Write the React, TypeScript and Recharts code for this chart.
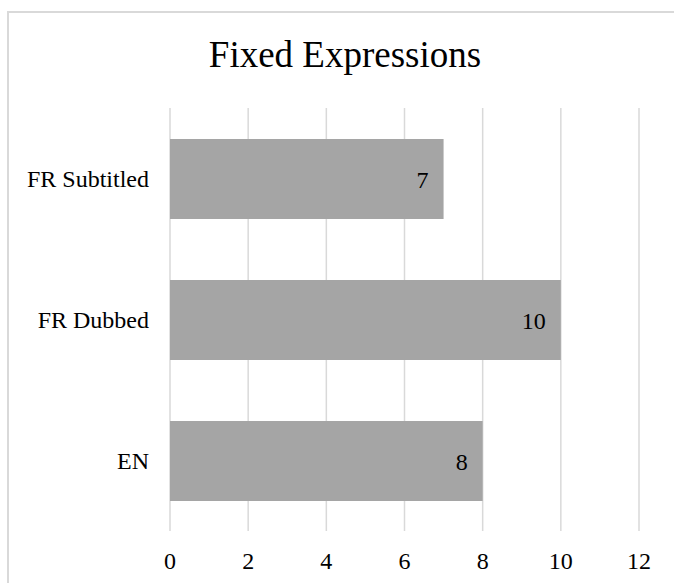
import { BarChart, Bar, XAxis, YAxis, CartesianGrid, LabelList } from 'recharts'

const categories = ['FR Subtitled', 'FR Dubbed', 'EN']
const counts = [7, 10, 8]
const xTicks = [0, 2, 4, 6, 8, 10, 12]

const data = categories.map((name, i) => ({ name, value: counts[i] }))

const serif = '"Liberation Serif", "Times New Roman", serif'

export default function App() {
  return (
    <div style={{ position: 'fixed', left: 0, top: 0, width: 674, height: 583, overflow: 'hidden', background: '#fff' }}>
      {/* chart frame, only the top and left edges fall inside the view */}
      <div
        style={{
          position: 'absolute',
          left: 7,
          top: 11,
          width: 700,
          height: 600,
          borderLeft: '2px solid #d9d9d9',
          borderTop: '2px solid #d9d9d9',
        }}
      />
      <div
        style={{
          position: 'absolute',
          left: 7,
          top: 33,
          width: 676,
          textAlign: 'center',
          fontFamily: serif,
          fontSize: 37,
          lineHeight: 'normal',
          color: '#000',
        }}
      >
        Fixed Expressions
      </div>
      <div style={{ position: 'absolute', left: 0, top: 0 }}>
        <BarChart
          width={674}
          height={583}
          data={data}
          layout="vertical"
          margin={{ top: 108, right: 35, bottom: 22, left: 8 }}
          barSize={80}
        >
          <CartesianGrid horizontal={false} stroke="#d9d9d9" strokeWidth={1.5} />
          <XAxis
            type="number"
            domain={[0, 12]}
            ticks={xTicks}
            axisLine={false}
            tickLine={false}
            tickMargin={15}
            height={30}
            tick={{ fill: '#000', fontSize: 24, fontFamily: serif }}
          />
          <YAxis
            type="category"
            dataKey="name"
            width={162}
            axisLine={false}
            tickLine={false}
            tickMargin={15}
            tick={{ fill: '#000', fontSize: 24, fontFamily: serif }}
          />
          <Bar dataKey="value" fill="#a5a5a5" isAnimationActive={false}>
            <LabelList
              dataKey="value"
              position="insideRight"
              offset={15}
              fill="#000"
              style={{ fontSize: 24, fontFamily: serif }}
            />
          </Bar>
        </BarChart>
      </div>
    </div>
  )
}
